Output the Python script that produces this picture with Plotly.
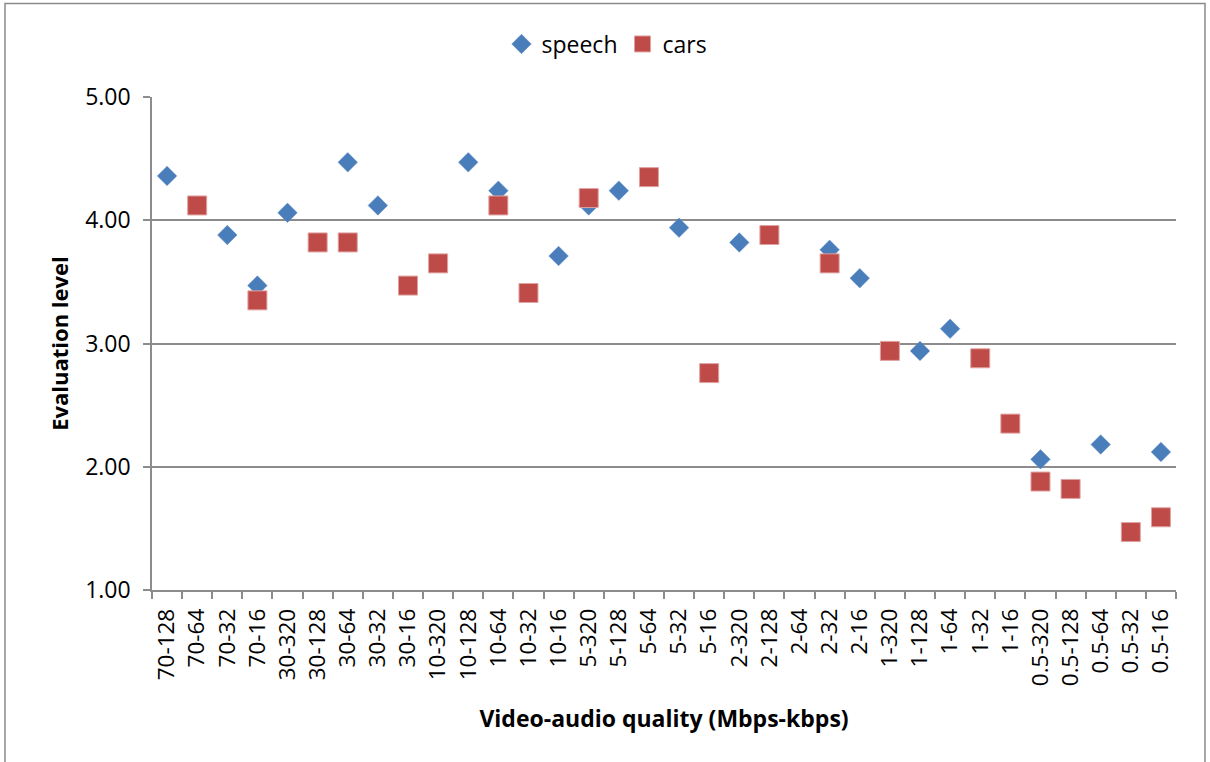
import plotly.graph_objects as go

# Video bitrate (Mbps) - audio bitrate (kbps) combinations
categories = [
    "70-128", "70-64", "70-32", "70-16",
    "30-320", "30-128", "30-64", "30-32", "30-16",
    "10-320", "10-128", "10-64", "10-32", "10-16",
    "5-320", "5-128", "5-64", "5-32", "5-16",
    "2-320", "2-128", "2-64", "2-32", "2-16",
    "1-320", "1-128", "1-64", "1-32", "1-16",
    "0.5-320", "0.5-128", "0.5-64", "0.5-32", "0.5-16",
]

# Mean evaluation level per content type (None = not evaluated)
speech = [
    4.36, None, 3.88, 3.47,
    4.06, None, 4.47, 4.12, None,
    None, 4.47, 4.24, None, 3.71,
    4.12, 4.24, None, 3.94, None,
    3.82, None, None, 3.76, 3.53,
    None, 2.94, 3.12, None, None,
    2.06, None, 2.18, None, 2.12,
]
cars = [
    None, 4.12, None, 3.35,
    None, 3.82, 3.82, None, 3.47,
    3.65, None, 4.12, 3.41, None,
    4.18, None, 4.35, None, 2.76,
    None, 3.88, None, 3.65, None,
    2.94, None, None, 2.88, 2.35,
    1.88, 1.82, None, 1.47, 1.59,
]

y_ticks = [1, 2, 3, 4, 5]
y_tick_text = ["1.00", "2.00", "3.00", "4.00", "5.00"]

FONT = "'Open Sans', sans-serif"
AXIS_GRAY = "#8c8c8c"

fig = go.Figure()
fig.add_trace(go.Scatter(
    x=categories, y=speech, name="speech", mode="markers",
    marker=dict(symbol="diamond", size=15, color="#4a7ebb",
                line=dict(width=0.5, color="#5b8bc7")),
))
fig.add_trace(go.Scatter(
    x=categories, y=cars, name="cars", mode="markers",
    marker=dict(symbol="square", size=19, color="#be4b48",
                line=dict(width=1, color="#e0a3a1")),
))

W, H = 1210, 762
L, R, T, B = 152, 1176, 97, 590
pw, ph = R - L, B - T


def px(x):
    return (x - L) / pw


def py(y):
    return (B - y) / ph


# outer chart frame
fig.add_shape(type="rect", xref="paper", yref="paper",
              x0=px(5), x1=px(1205), y0=py(775), y1=py(3.5),
              line=dict(color="#8a8a8a", width=1.5), layer="below")

fig.update_layout(
    width=W, height=H,
    margin=dict(l=L, r=W - R, t=T, b=H - B),
    paper_bgcolor="white", plot_bgcolor="white",
    font=dict(family=FONT, size=23, color="#000000"),
    showlegend=True,
    legend=dict(orientation="h", x=px(607), xanchor="center", y=py(44), yanchor="middle",
                font=dict(family=FONT, size=23), itemwidth=30,
                bgcolor="rgba(0,0,0,0)"),
    xaxis=dict(
        type="category", categoryorder="array", categoryarray=categories,
        range=[-0.5, len(categories) - 0.5],
        showgrid=False, showline=True, linecolor=AXIS_GRAY, linewidth=1.5,
        ticks="outside", tickson="boundaries", ticklen=7, tickcolor=AXIS_GRAY, tickwidth=1.5,
        tickangle=-90, tickfont=dict(family=FONT, size=22.5), ticklabelstandoff=8,
        title=dict(text="<b>Video-audio quality (Mbps-kbps)</b>",
                   font=dict(family=FONT, size=23), standoff=26),
        zeroline=False,
    ),
    yaxis=dict(
        range=[1, 5], tickvals=y_ticks, ticktext=y_tick_text,
        showgrid=True, gridcolor=AXIS_GRAY, gridwidth=1.5,
        showline=True, linecolor=AXIS_GRAY, linewidth=1.5,
        ticks="outside", ticklen=7, tickcolor=AXIS_GRAY, tickwidth=1.5,
        tickfont=dict(family=FONT, size=23), ticklabelstandoff=8,
        title=dict(text="<b>Evaluation level</b>", font=dict(family=FONT, size=22), standoff=10),
        zeroline=False,
    ),
)

fig.write_html("out.html")
